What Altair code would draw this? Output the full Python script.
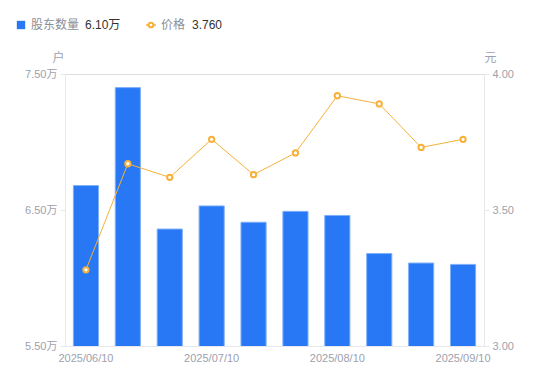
import altair as alt
import pandas as pd

dates = ["2025/06/10", "2025/06/20", "2025/06/30", "2025/07/10", "2025/07/20",
         "2025/07/31", "2025/08/10", "2025/08/20", "2025/08/31", "2025/09/10"]
holders = [6.68, 7.40, 6.36, 6.53, 6.41, 6.49, 6.46, 6.18, 6.11, 6.10]  # 万户
prices = [3.28, 3.67, 3.62, 3.76, 3.63, 3.71, 3.92, 3.89, 3.73, 3.76]
x_ticks = ["2025/06/10", "2025/07/10", "2025/08/10", "2025/09/10"]
holder_ticks = [5.5, 6.5, 7.5]
price_ticks = [3.0, 3.5, 4.0]

df = pd.DataFrame({"date": dates, "holders": holders, "price": prices})
last = pd.DataFrame({"holders": [holders[-1]], "price": [prices[-1]]})

FONT = "Liberation Sans, Noto Sans CJK SC"
BLUE = "#2878f5"
ORANGE = "#f7b13a"
GRAY = "#9da1ad"
AXIS = "#e6e8ec"

x = alt.X("date:O", sort=dates,
          scale=alt.Scale(paddingInner=0.4, paddingOuter=0.2),
          axis=alt.Axis(values=x_ticks, labelAngle=0, ticks=False, domainColor=AXIS,
                        labelColor=GRAY, labelFontSize=11, labelPadding=6, title=None,
                        labelFont=FONT))

bars = alt.Chart(df).mark_bar(color=BLUE, stroke="#7fb0fa", strokeWidth=1, clip=True).encode(
    x=x,
    y=alt.Y("holders:Q", scale=alt.Scale(domain=[5.5, 7.5], zero=False, nice=False),
            axis=alt.Axis(values=holder_ticks, labelExpr="format(datum.value,'.2f')+'万'",
                          title="户", titleAngle=0, titleX=-7, titleY=-17, titleAlign="center",
                          titleBaseline="middle", titleColor=GRAY, titleFontWeight="normal",
                          titleFontSize=12, titleFont=FONT, labelFont=FONT,
                          labelColor=GRAY, labelFontSize=11, tickSize=5, tickColor=AXIS,
                          domainColor=AXIS, grid=False, labelPadding=3)),
)

price_y = alt.Y("price:Q", scale=alt.Scale(domain=[3.0, 4.0], zero=False, nice=False),
                axis=alt.Axis(orient="right", values=price_ticks, format=".2f",
                              title="元", titleAngle=0, titleX=6, titleY=-17, titleAlign="center",
                              titleBaseline="middle", titleColor=GRAY, titleFontWeight="normal",
                              titleFontSize=12, titleFont=FONT, labelFont=FONT,
                              labelColor=GRAY, labelFontSize=11, tickSize=5, tickColor=AXIS,
                              domainColor=AXIS, grid=False, labelPadding=3))

line = alt.Chart(df).mark_line(color=ORANGE, strokeWidth=1).encode(x=x, y=price_y)
pts = alt.Chart(df).mark_point(shape="circle", size=28, fill="white", stroke=ORANGE,
                               strokeWidth=2, opacity=1, filled=False).encode(x=x, y=price_y)

price_layer = alt.layer(line, pts)

# legend (manual)
LY = -49
leg_sq = alt.Chart(last).mark_square(size=70, color=BLUE, opacity=1, cornerRadius=1).encode(
    x=alt.value(-44), y=alt.value(LY))
leg_t1 = alt.Chart(last).mark_text(align="left", baseline="middle", fontSize=12, font=FONT,
                                   color="#8a8f99").encode(
    x=alt.value(-34), y=alt.value(LY), text=alt.value("股东数量"))
leg_v1 = alt.Chart(last).transform_calculate(
    t="format(datum.holders,'.2f')+'万'").mark_text(
    align="left", baseline="middle", fontSize=12, font=FONT, color="#333333").encode(
    x=alt.value(20), y=alt.value(LY), text="t:N")
leg_rule = alt.Chart(last).mark_rule(color=ORANGE, strokeWidth=1.5).encode(
    x=alt.value(81), x2=alt.value(91), y=alt.value(LY))
leg_pt = alt.Chart(last).mark_point(shape="circle", size=22, fill="white", stroke=ORANGE,
                                    strokeWidth=2, opacity=1).encode(
    x=alt.value(86), y=alt.value(LY))
leg_t2 = alt.Chart(last).mark_text(align="left", baseline="middle", fontSize=12, font=FONT,
                                   color="#8a8f99").encode(
    x=alt.value(96), y=alt.value(LY), text=alt.value("价格"))
leg_v2 = alt.Chart(last).transform_calculate(
    t="format(datum.price,'.3f')").mark_text(
    align="left", baseline="middle", fontSize=12, font=FONT, color="#333333").encode(
    x=alt.value(127), y=alt.value(LY), text="t:N")

chart = alt.layer(bars, price_layer, leg_sq, leg_t1, leg_v1, leg_rule, leg_pt, leg_t2, leg_v2
                  ).resolve_scale(y="independent").properties(
    width=419, height=272,
    autosize=alt.AutoSizeParams(type="none"),
    padding={"left": 57, "top": 66, "right": 58, "bottom": 27},
).configure_view(stroke=None).configure(background="white")

chart.save("out.html", embed_options={"renderer": "svg", "actions": False})
